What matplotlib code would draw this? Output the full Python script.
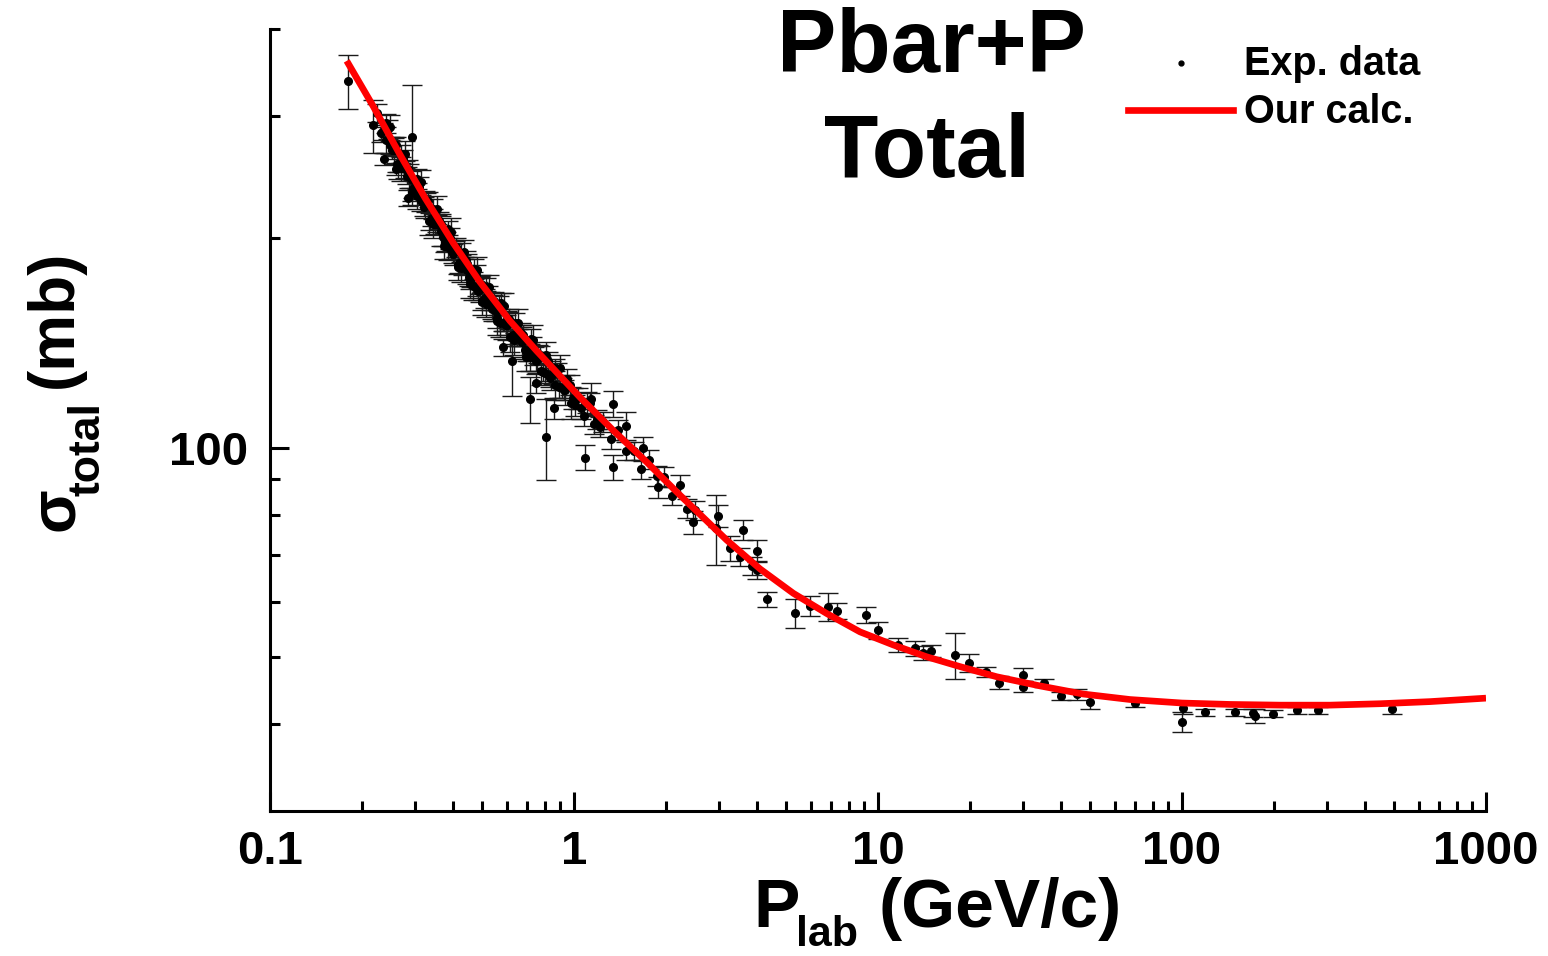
import numpy as np
import matplotlib
matplotlib.use('Agg')
import matplotlib.pyplot as plt
from matplotlib.lines import Line2D
from matplotlib.ticker import FixedLocator, FixedFormatter, NullFormatter

plt.rcParams['font.family'] = ['Liberation Sans', 'DejaVu Sans']
plt.rcParams['font.weight'] = 'bold'

# experimental points: momentum (GeV/c), sigma (mb), error (mb)
p_exp = [0.181, 0.219, 0.238, 0.260, 0.285, 0.293,
         0.225, 0.232, 0.240, 0.248, 0.255, 0.262, 0.270, 0.278, 0.285, 0.295,
         0.305, 0.315, 0.325, 0.335, 0.345, 0.355, 0.365, 0.375, 0.385, 0.395,
         0.405, 0.415, 0.425, 0.435, 0.445, 0.455, 0.470, 0.480, 0.490, 0.500,
         0.515, 0.530, 0.545, 0.560, 0.575, 0.590, 0.605, 0.620, 0.640, 0.660,
         0.680, 0.700, 0.720, 0.740, 0.760, 0.790, 0.820, 0.850, 0.880, 0.910,
         0.950, 0.990, 1.030, 1.080, 1.130, 1.190, 1.250, 1.320, 1.400, 1.480,
         1.570, 1.660, 1.760, 1.870, 1.980, 2.100, 2.230, 2.360, 2.500,
         0.236, 0.244, 0.252, 0.259, 0.266, 0.274, 0.282, 0.290, 0.300, 0.310,
         0.320, 0.330, 0.340, 0.350, 0.360, 0.370, 0.380, 0.390, 0.400, 0.410,
         0.420, 0.430, 0.440, 0.450, 0.460, 0.475, 0.485, 0.495, 0.508, 0.522,
         0.538, 0.552, 0.568, 0.583, 0.598, 0.612, 0.630, 0.650, 0.670, 0.690,
         0.710, 0.730, 0.750, 0.775, 0.805, 0.835, 0.865, 0.895, 0.930, 0.970,
         1.010, 1.055, 1.105, 1.160, 1.220,
         0.240, 0.248, 0.256, 0.263, 0.270, 0.278, 0.286, 0.294, 0.304, 0.314,
         0.324, 0.334, 0.344, 0.354, 0.364, 0.374, 0.384, 0.394, 0.404, 0.414,
         0.424, 0.434, 0.444, 0.454, 0.464, 0.479, 0.489, 0.499, 0.512, 0.526,
         0.542, 0.556, 0.572, 0.587, 0.602, 0.616, 0.634, 0.654, 0.674, 0.694,
         0.714, 0.734, 0.754, 0.779, 0.809, 0.839, 0.869, 0.899, 0.934, 0.974,
         0.586, 0.624, 0.717, 0.750, 0.807, 0.860, 1.089, 1.135, 1.341, 1.341,
         1.480, 1.690, 1.894, 2.469, 2.931, 2.984, 3.260, 3.516, 3.588, 3.842,
         3.990, 4.000, 4.304, 5.333, 5.973, 6.865, 7.313, 9.111, 10.02, 11.66,
         13.23, 14.09, 14.94, 17.92, 19.97, 22.73, 25.0, 29.97, 30.0, 35.05,
         39.9, 45.3, 49.8, 69.8, 100.7, 100.0, 119.0, 148.9, 170.6, 173.9,
         199.5, 238.9, 279.1, 489.9]
sig_exp = [337.2, 290.6, 260.0, 251.7, 228.3, 279.4,
           302.5, 283.4, 292.9, 272.1, 271.2, 255.9, 264.5, 251.2, 251.2, 235.9,
           243.5, 226.2, 225.3, 211.8, 220.4, 209.9, 209.9, 197.4, 206.1, 192.5,
           192.5, 182.9, 190.6, 182.9, 183.9, 174.1, 180.9, 170.3, 171.3, 162.6,
           170.3, 162.6, 162.6, 153.8, 161.6, 150.9, 151.9, 144.1, 150.9, 144.1,
           145.1, 137.3, 143.2, 135.3, 136.3, 128.5, 133.4, 127.5, 128.5, 121.7,
           125.6, 117.7, 117.7, 110.9, 115.8, 109.9, 108.9, 103.0, 105.9, 99.0,
           99.0, 93.1, 96.1, 91.1, 90.6, 85.2, 88.2, 81.7, 81.2,
           285, 287, 268, 272, 256, 260, 246, 243, 235, 237,
           222, 226, 214, 210, 212, 201, 198, 200, 190, 194,
           184, 182, 186, 176, 175, 177, 168, 172, 164, 166,
           158, 157, 160, 151, 150, 153, 145, 144, 146, 138,
           137, 140, 133, 136, 128, 126, 130, 122, 121, 123,
           115, 114, 116, 108, 107,
           277, 289, 268, 255, 252, 264, 246, 233, 230, 241,
           224, 212, 210, 220, 205, 195, 194, 204, 191, 182,
           181, 191, 180, 172, 171, 180, 169, 162, 161, 170,
           159, 152, 151, 160, 150, 144, 143, 151, 142, 135,
           135, 143, 134, 129, 136, 127, 123, 130, 121, 116,
           139.3, 133.3, 117.4, 123.7, 103.7, 114.0, 96.7, 117.4, 115.5, 93.7,
           107.5, 99.7, 87.7, 78.1, 76.6, 79.8, 71.6, 69.6, 76.1, 67.5,
           71.0, 66.6, 60.5, 57.8, 59.2, 59.0, 58.2, 57.4, 54.6, 52.0,
           51.4, 50.7, 51.0, 50.3, 49.0, 47.5, 45.9, 47.1, 45.3, 45.8,
           43.9, 44.2, 43.1, 42.9, 42.2, 40.3, 41.6, 41.6, 41.5, 41.1,
           41.4, 41.9, 41.9, 42.1]
err_exp = [30, 25.7, 5, 5, 6, 53,
           9, 8, 9, 8, 8, 7, 8, 7, 8, 7,
           8, 7, 7, 6, 7, 6, 7, 6, 6, 6,
           6, 5, 6, 5, 6, 5, 6, 5, 5, 5,
           5, 5, 5, 5, 5, 4, 5, 4, 5, 4,
           5, 4, 5, 4, 4, 4, 4, 4, 4, 4,
           4, 4, 4, 3.5, 4, 3.5, 3.5, 3.5, 3.5, 3,
           3, 3, 3, 3, 3, 2.5, 3, 2.5, 2.5,
           8, 9, 8, 8, 7, 8, 7, 7, 7, 8,
           7, 7, 6, 7, 6, 6, 6, 7, 6, 6,
           6, 5, 6, 5, 5, 6, 5, 5, 5, 5,
           5, 5, 5, 4, 5, 5, 4, 4, 5, 4,
           4, 4, 4, 4, 4, 4, 4, 4, 4, 4,
           4, 4, 4, 3.5, 3.5,
           12, 12, 12, 12, 10, 12, 10, 10, 10, 10,
           10, 10, 10, 10, 10, 8, 8, 10, 8, 8,
           8, 8, 8, 8, 8, 8, 7, 7, 7, 7,
           7, 7, 7, 7, 7, 7, 7, 7, 7, 6,
           6, 7, 6, 6, 6, 6, 6, 6, 6, 6,
           4, 14.6, 9, 4, 13.8, 4, 4, 6.5, 5, 4,
           5, 4, 3, 3, 8.9, 3, 3, 2, 2.5, 2,
           2.5, 2, 1.5, 2.8, 2, 2.7, 1.5, 1.5, 1.5, 1.2,
           1.2, 1.2, 1.0, 3.8, 1.5, 0.8, 1.0, 1.0, 0.8, 0.6,
           0.6, 0.8, 1.0, 0.5, 0.8, 1.3, 0.5, 0.5, 0.5, 0.9,
           0.5, 0.5, 0.5, 0.7]

# calculated curve
p_calc = [0.1788, 0.2187, 0.2677, 0.3236, 0.4009, 0.4907, 0.6159, 0.754,
          1.0465, 1.347, 1.734, 2.232, 3.179, 4.091, 5.266, 6.784, 8.727,
          11.23, 14.46, 18.61, 24.58, 34.12, 47.24, 67.44, 100.0, 143.9,
          210.1, 306.9, 448.1, 654.4, 1000.0]
sig_calc = [359.9, 309.5, 263.8, 228.6, 196.8, 173.0, 152.1, 137.7,
            118.1, 105.8, 95.3, 85.4, 73.6, 66.9, 61.7, 57.7, 54.3,
            52.0, 50.0, 48.4, 46.8, 45.4, 44.2, 43.4, 42.9, 42.7,
            42.6, 42.6, 42.8, 43.1, 43.6]

x_ticks = [0.1, 1, 10, 100, 1000]
x_labels = ['0.1', '1', '10', '100', '1000']
y_minor = [40, 50, 60, 70, 80, 90, 200, 300, 400]

W, H = 1548, 956
fig = plt.figure(figsize=(W / 100, H / 100), dpi=100)
ax = fig.add_axes([270 / W, 1 - 811 / H, 1216 / W, 782 / H])

def fx(px):
    return px / W

def fy(py):
    return 1 - py / H

ax.errorbar(p_exp, sig_exp, yerr=err_exp, fmt='o', color='black', ms=5.5,
            ecolor='#1a1a1a', elinewidth=1.0, capsize=7, capthick=1.0, zorder=2)
ax.plot(p_calc, sig_calc, color='red', lw=4.8, solid_capstyle='butt',
        solid_joinstyle='round', zorder=3)

ax.set_xscale('log')
ax.set_yscale('log')
ax.set_xlim(0.1, 1000)
ax.set_ylim(30, 400)

ax.xaxis.set_major_locator(FixedLocator(x_ticks))
ax.xaxis.set_major_formatter(FixedFormatter(x_labels))
ax.xaxis.set_minor_formatter(NullFormatter())
ax.yaxis.set_major_locator(FixedLocator([100]))
ax.yaxis.set_major_formatter(FixedFormatter(['100']))
ax.yaxis.set_minor_locator(FixedLocator(y_minor))
ax.yaxis.set_minor_formatter(NullFormatter())

for s in ['top', 'right']:
    ax.spines[s].set_visible(False)
for s in ['left', 'bottom']:
    ax.spines[s].set_linewidth(2.2)
ax.tick_params(which='both', direction='in', width=2.2, labelsize=34)
ax.tick_params(which='major', length=14)
ax.tick_params(which='minor', length=7)
ax.tick_params(axis='x', pad=14)
ax.tick_params(axis='y', pad=16)

# axis titles with low subscripts
fig.text(fx(753), fy(927), 'P', fontsize=50, ha='left', va='baseline')
fig.text(fx(796), fy(946), 'lab', fontsize=31, ha='left', va='baseline')
fig.text(fx(878), fy(927), '(GeV/c)', fontsize=50, ha='left', va='baseline')

fig.text(fx(73), fy(531), 'σ', fontsize=46, rotation=90,
         rotation_mode='anchor', ha='left', va='baseline')
fig.text(fx(100), fy(496), 'total', fontsize=32, rotation=90,
         rotation_mode='anchor', ha='left', va='baseline')
fig.text(fx(72), fy(388), '(mb)', fontsize=46, rotation=90,
         rotation_mode='anchor', ha='left', va='baseline')

# title
fig.text(fx(931), fy(72), 'Pbar+P', fontsize=64, ha='center', va='baseline')
fig.text(fx(927), fy(177), 'Total', fontsize=64, ha='center', va='baseline')

# legend
fig.add_artist(Line2D([fx(1181)], [fy(63)], ls='none', marker='o',
                      ms=3.5, color='black', transform=fig.transFigure))
fig.add_artist(Line2D([fx(1128), fx(1233)], [fy(110), fy(110)], color='red',
                      lw=4.8, transform=fig.transFigure))
fig.text(fx(1244), fy(75), 'Exp. data', fontsize=28.5, ha='left', va='baseline')
fig.text(fx(1244), fy(123), 'Our calc.', fontsize=28.5, ha='left', va='baseline')

fig.savefig('out.png', dpi=100)
